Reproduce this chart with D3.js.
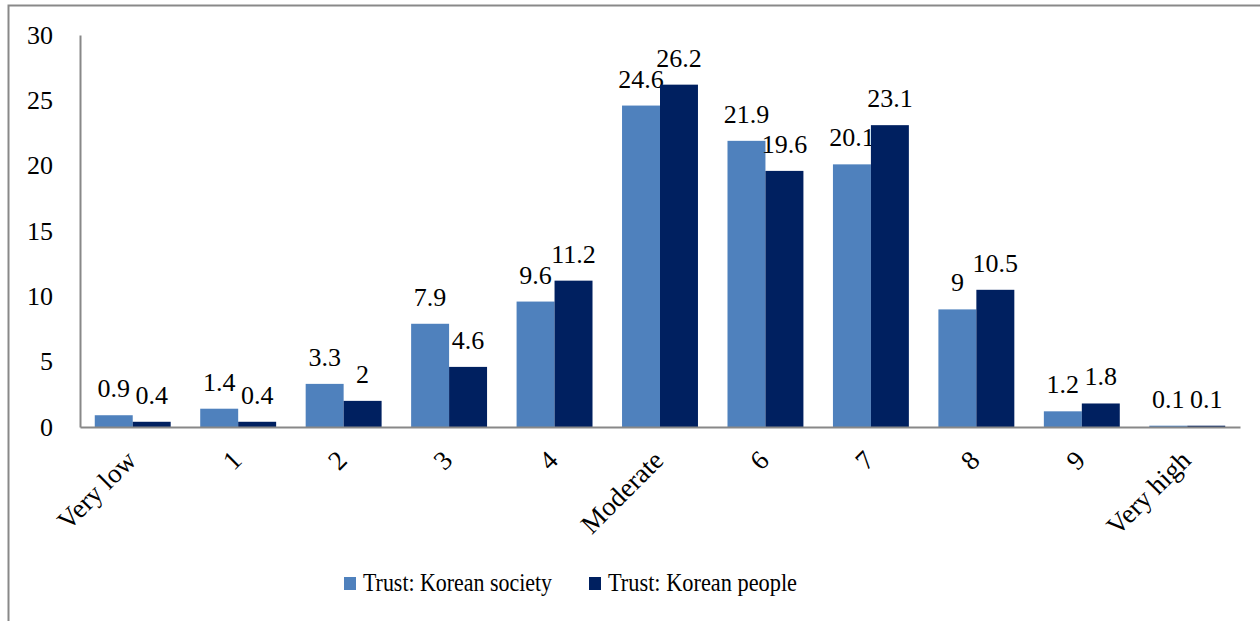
<!DOCTYPE html>
<html><head><meta charset="utf-8">
<script src="https://cdn.jsdelivr.net/npm/d3@7"></script>
<style>html,body{margin:0;padding:0;background:#fff;overflow:hidden}</style>
</head><body>
<svg id="c" width="1260" height="621"></svg>
<script>
const categories = ["Very low","1","2","3","4","Moderate","6","7","8","9","Very high"];
const seriesNames = ["Trust: Korean society","Trust: Korean people"];
const society = [0.9,1.4,3.3,7.9,9.6,24.6,21.9,20.1,9,1.2,0.1];
const people = [0.4,0.4,2,4.6,11.2,26.2,19.6,23.1,10.5,1.8,0.1];
const yTicks = [0,5,10,15,20,25,30];
const colors = ["#4F81BD","#002060"];

(function(){
const font = "'Liberation Serif', serif";
const fs = 26;
const svg = d3.select("#c");
const pLeft = 80, pRight = 1240, pTop = 35, pBottom = 427;

svg.append("rect").attr("x",8.5).attr("y",5.5).attr("width",1400).attr("height",800)
  .attr("fill","none").attr("stroke","#898989").attr("stroke-width",2);

const x = d3.scaleBand().domain(categories).range([pLeft,pRight]).paddingInner(0.28).paddingOuter(0.14);
const xs = d3.scaleBand().domain([0,1]).range([0,x.bandwidth()]);
const y = d3.scaleLinear().domain([0,30]).range([pBottom,pTop]);

const series = [society, people];
series.forEach((vals,si)=>{
  const g = svg.append("g");
  g.selectAll("rect").data(vals).enter().append("rect")
    .attr("x",(d,i)=>x(categories[i])+xs(si))
    .attr("y",d=>y(d))
    .attr("width",xs.bandwidth())
    .attr("height",d=>y(0)-y(d))
    .attr("fill",colors[si]);
  g.selectAll("text").data(vals).enter().append("text")
    .attr("x",(d,i)=>x(categories[i])+xs(si)+xs.bandwidth()/2)
    .attr("y",d=>y(d)-18)
    .attr("text-anchor","middle")
    .attr("font-family",font).attr("font-size",fs).attr("fill","#000")
    .text(d=>d);
});

const yAxis = d3.axisLeft(y).tickValues(yTicks).tickSize(0).tickPadding(27);
const ya = svg.append("g").attr("transform",`translate(${pLeft},0)`).call(yAxis);
ya.select(".domain").attr("stroke","#888").attr("stroke-width",2);
ya.selectAll("text").attr("font-family",font).attr("font-size",fs).attr("fill","#000");

const xAxis = d3.axisBottom(x).tickSize(0).tickPadding(0);
const xa = svg.append("g").attr("transform",`translate(0,${pBottom})`).call(xAxis);
xa.select(".domain").attr("stroke","#888").attr("stroke-width",2);
xa.selectAll("text").attr("font-family",font).attr("font-size",27).attr("fill","#000")
  .attr("text-anchor","end").attr("dy",null).attr("y",0)
  .attr("transform","translate(5,35) rotate(-45)");

const lg = svg.append("g");
const lx = [344, 589];
seriesNames.forEach((n,i)=>{
  lg.append("rect").attr("x",lx[i]).attr("y",577).attr("width",12).attr("height",13).attr("fill",colors[i]);
  lg.append("text").attr("x",lx[i]+19).attr("y",591).attr("font-family",font).attr("font-size",26)
    .attr("textLength",189).attr("lengthAdjust","spacingAndGlyphs").attr("fill","#000").text(n);
});
})();
</script>
</body></html>
